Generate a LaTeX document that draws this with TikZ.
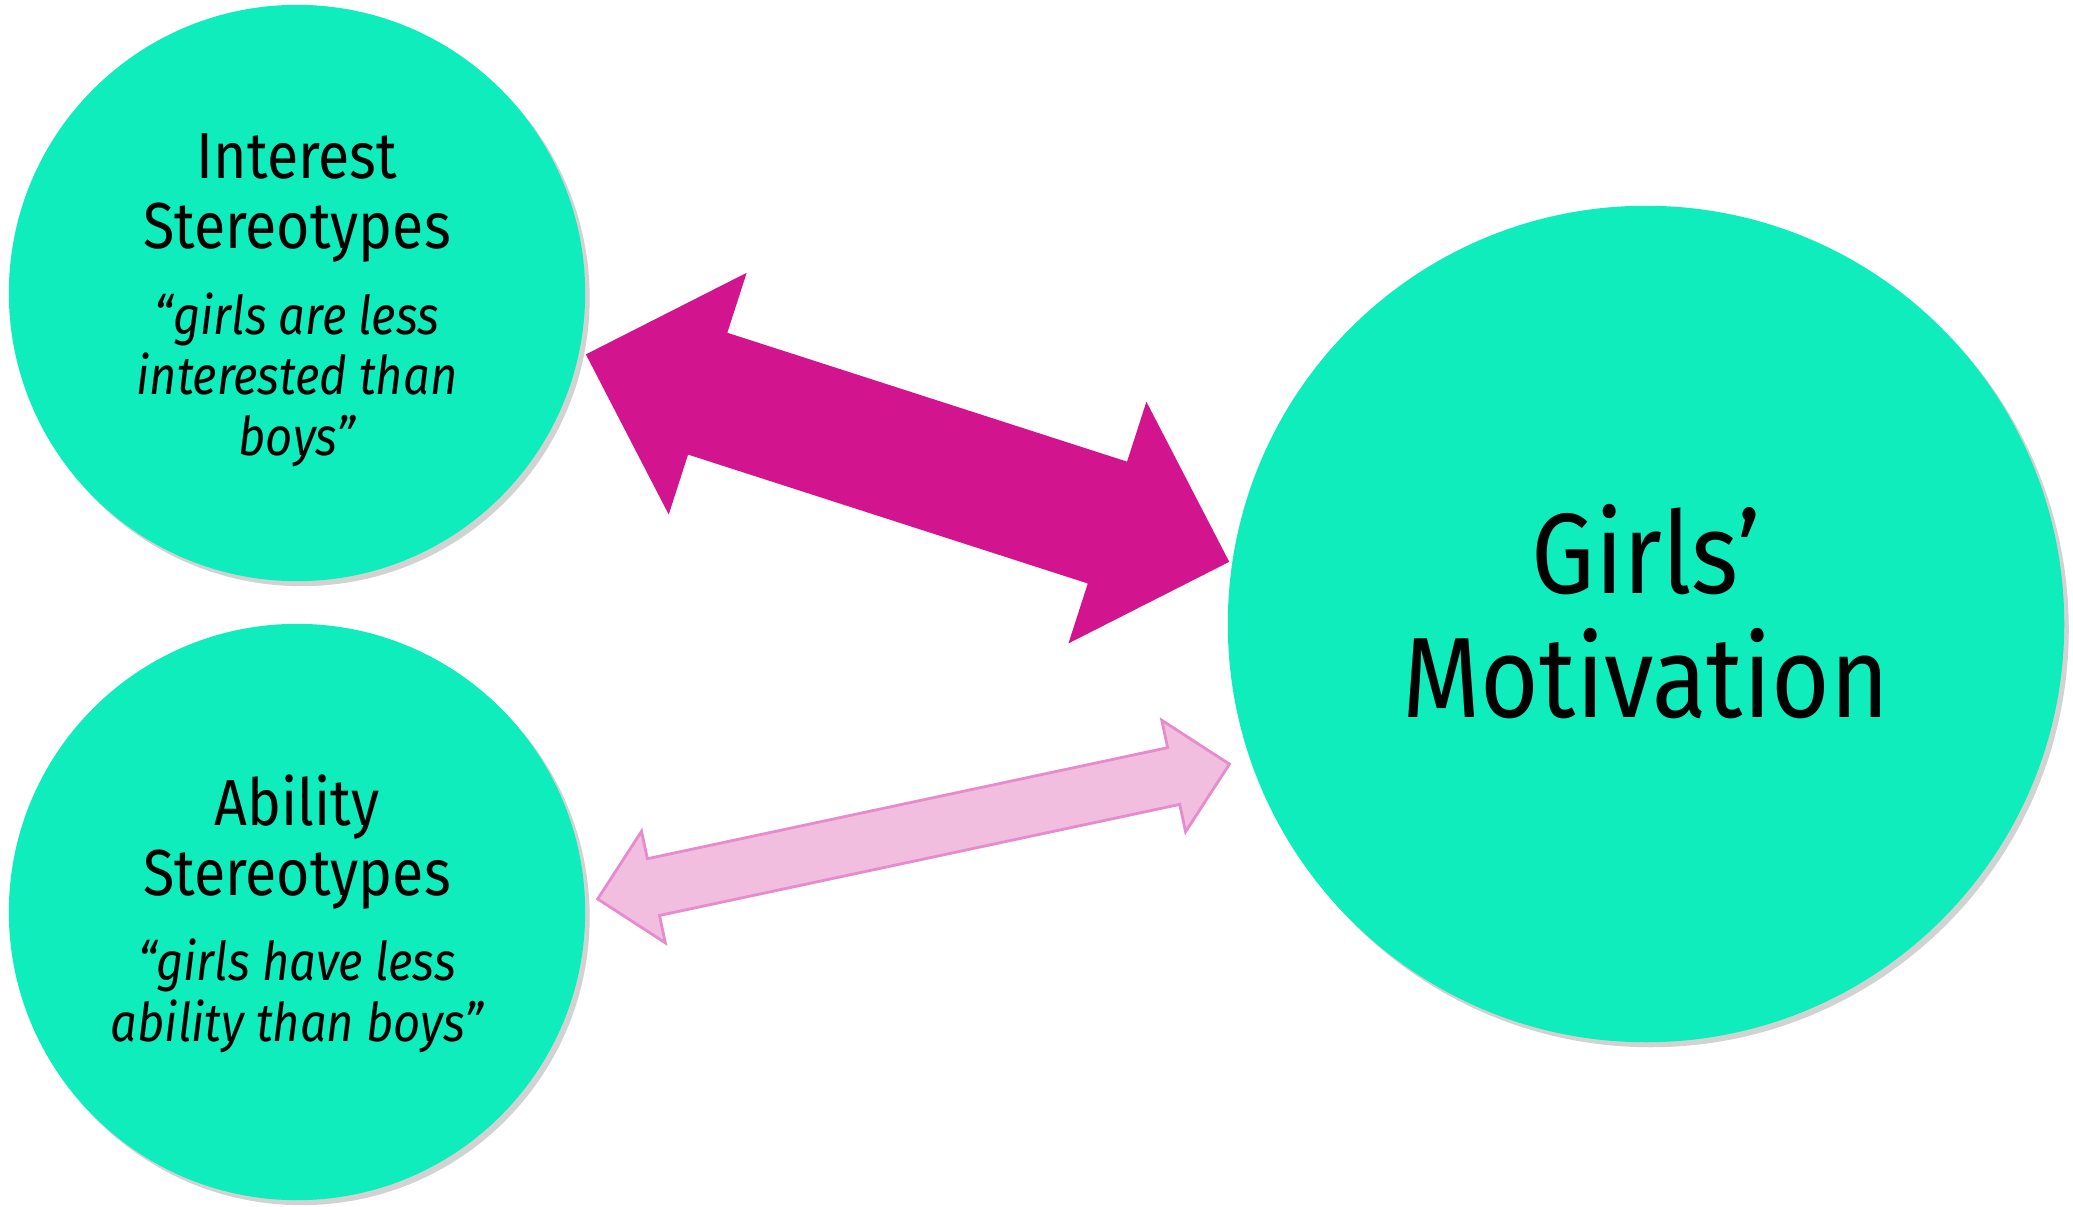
\documentclass[tikz,border=0pt]{standalone}
\usepackage{fontspec}
\setmainfont{Fira Sans}[FakeStretch=0.88]
\usepackage{xcolor}
\usetikzlibrary{positioning,calc,shadows}
\definecolor{bubblegreen}{HTML}{0EEDBB}
\definecolor{arrowmagenta}{HTML}{D2148F}
\definecolor{arrowpink}{HTML}{F2BEE0}
\definecolor{arrowpinkline}{HTML}{E68CCD}

\begin{document}
\begin{tikzpicture}[x=0.01cm,y=-0.01cm,
        bubble/.style={circle,fill=bubblegreen,inner sep=0pt,
            drop shadow={shadow xshift=0.045cm,shadow yshift=-0.05cm,opacity=0.35}},
        title/.style={align=center,anchor=base,inner sep=0pt,
            font=\fontsize{18.5}{19.9}\selectfont},
        quote/.style={align=center,anchor=base,inner sep=0pt,
            font=\fontsize{15.2}{17.1}\selectfont\itshape},
        strong/.style={fill=arrowmagenta},
        weak/.style={fill=arrowpink,draw=arrowpinkline,line width=0.8pt}]
    \fill[white] (0,0) rectangle (2073,1206);
    \useasboundingbox (0,0) rectangle (2073,1206);
    % bubbles
    \node (interest) [bubble,minimum size=5.76cm] at (297,293) {};
    \node (ability) [bubble,minimum size=5.76cm] at (297,912) {};
    \node (girls) [bubble,minimum size=8.36cm] at (1646,624) {};
    % texts (base = last line)
    \node (intTitle) [title] at (297,248) {Interest\\Stereotypes};
    \node (intQuote) [quote] at (297,455) {“girls are less\\interested than\\boys”};
    \node (abiTitle) [title] at (297,895) {Ability\\Stereotypes};
    \node (abiQuote) [quote] at (297,1041) {“girls have less\\ability than boys”};
    \node (girlsText) [align=center,anchor=base,inner sep=0pt,
        font=\fontsize{32.5}{35}\selectfont] at (1646,717) {Girls’\\Motivation};
    % arrow ends
    \coordinate (strongA) at (585.6,354.3);
    \coordinate (strongB) at (1229.5,561.9);
    \coordinate (weakA) at (597.6,899);
    \coordinate (weakB) at (1229.5,764.1);
    % interest <-> motivation
    \begin{scope}[shift={($(strongA)!0.5!(strongB)$)},rotate=-17.87]
        \fill[strong] (-338,0) -- (-210,-127) -- (-210,-64) -- (210,-64) -- (210,-127)
            -- (338,0) -- (210,127) -- (210,64) -- (-210,64) -- (-210,127) -- cycle;
    \end{scope}
    % ability <-> motivation
    \begin{scope}[shift={($(weakA)!0.5!(weakB)$)},rotate=12.05]
        \filldraw[weak] (-323,0) -- (-266,-57) -- (-266,-29) -- (266,-29) -- (266,-57)
            -- (323,0) -- (266,57) -- (266,29) -- (-266,29) -- (-266,57) -- cycle;
    \end{scope}
\end{tikzpicture}
\end{document}
